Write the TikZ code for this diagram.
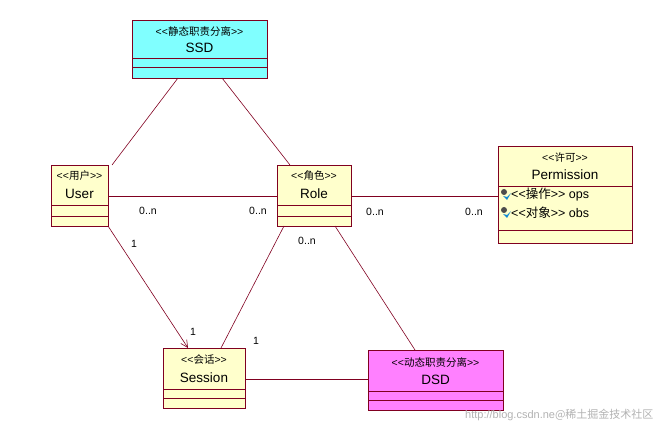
\documentclass[tikz,border=0pt]{standalone}
\usepackage{fontspec}
\setmainfont{Liberation Sans}
\newfontfamily\cjk{Noto Sans CJK SC}
\usetikzlibrary{arrows.meta}
\definecolor{cls}{HTML}{FFFFCC}
\definecolor{bd}{HTML}{800020}
\definecolor{ssdc}{HTML}{80FFFF}
\definecolor{dsdc}{HTML}{FF80FF}
\newcommand{\stl}{{<}{<}}
\newcommand{\stg}{{>}{>}}
\begin{document}
\begin{tikzpicture}[x=1pt,y=-1pt,
  box/.style={draw=bd,line width=0.8pt,anchor=north west,inner sep=0pt},
  st/.style={font=\fontsize{10.5}{11}\selectfont},
  nm/.style={font=\fontsize{13.5}{14}\selectfont},
  lnk/.style={draw=bd,line width=0.6pt},
  ml/.style={font=\fontsize{10.5}{11}\selectfont,inner sep=0pt}]
\useasboundingbox (0,0) rectangle (669,438);
% boxes
\node[box,fill=ssdc,minimum width=135,minimum height=58] (ssd) at (132,20) {};
\node[box,fill=cls,minimum width=57,minimum height=61] (user) at (51,165) {};
\node[box,fill=cls,minimum width=74,minimum height=61] (role) at (277,165) {};
\node[box,fill=cls,minimum width=134,minimum height=97] (perm) at (498,146) {};
\node[box,fill=cls,minimum width=82,minimum height=60] (sess) at (163,348) {};
\node[box,fill=dsdc,minimum width=135,minimum height=60] (dsd) at (368,350) {};
% compartments
\foreach \n/\a/\b in {ssd/38/47,user/40/51,role/40/51,sess/41/50,dsd/41/50}{
  \draw[bd,line width=0.8pt] ([yshift=-\a]\n.north west) -- ([yshift=-\a]\n.north east);
  \draw[bd,line width=0.8pt] ([yshift=-\b]\n.north west) -- ([yshift=-\b]\n.north east);}
\draw[bd,line width=0.8pt] ([yshift=-40]perm.north west) -- ([yshift=-40]perm.north east);
\draw[bd,line width=0.8pt] ([yshift=-84]perm.north west) -- ([yshift=-84]perm.north east);
% texts
\node[st] (t1) at (199.5,31) {\stl{\cjk 静态职责分离}\stg};
\node[nm] (t2) at (199.5,48) {SSD};
\node[st] (t3) at (79.5,176) {\stl{\cjk 用户}\stg};
\node[nm] (t4) at (79.5,194) {User};
\node[st] (t5) at (314,176) {\stl{\cjk 角色}\stg};
\node[nm] (t6) at (314,194) {Role};
\node[st] (t7) at (565,158) {\stl{\cjk 许可}\stg};
\node[nm] (t8) at (565,175) {Permission};
\node[st] (t9) at (204,360) {\stl{\cjk 会话}\stg};
\node[nm] (t10) at (204,378) {Session};
\node[st] (t11) at (435.5,362) {\stl{\cjk 动态职责分离}\stg};
\node[nm] (t12) at (435.5,380) {DSD};
\node[nm,anchor=west,font=\fontsize{12.5}{13}\selectfont,inner sep=0pt] (a1) at (511,195) {\stl{\cjk 操作}\stg\ ops};
\node[nm,anchor=west,font=\fontsize{12.5}{13}\selectfont,inner sep=0pt] (a2) at (511,213) {\stl{\cjk 对象}\stg\ obs};
\foreach \y in {195,213}{
  \fill[gray!60!black] (504,\y-3) circle (3);
  \fill[cyan!70!blue] (503,\y+1) -- (507,\y+5) -- (511,\y-2) -- (507,\y+2) -- cycle;}
% connectors
\coordinate (s1) at (178,78); \coordinate (u1) at (112,165);
\coordinate (s2) at (222,78); \coordinate (r1) at (290,165);
\draw[lnk] (s1) -- (u1);
\draw[lnk] (s2) -- (r1);
\draw[lnk] (user.east) -- (role.west);
\draw[lnk] (role.east) -- (perm.west |- role.east);
\coordinate (u2) at (108,226); \coordinate (se1) at (188,348);
\draw[lnk,-{Straight Barb[length=7pt,width=7pt]}] (u2) -- (se1);
\coordinate (r2) at (284,226); \coordinate (se2) at (221,348);
\draw[lnk] (r2) -- (se2);
\coordinate (r3) at (335,226); \coordinate (d1) at (415,350);
\draw[lnk] (r3) -- (d1);
\draw[lnk] (sess.east |- 0,379) -- (dsd.west |- 0,379);
% multiplicities
\node[ml] (m1) at (148,211) {0..n};
\node[ml] (m2) at (258,211) {0..n};
\node[ml] (m3) at (375,212) {0..n};
\node[ml] (m4) at (474,212) {0..n};
\node[ml] (m5) at (134,244) {1};
\node[ml] (m6) at (307,241) {0..n};
\node[ml] (m7) at (193,332) {1};
\node[ml] (m8) at (256,341) {1};
\node[anchor=east,text=gray!60,font=\fontsize{11}{12}\selectfont] (wm) at (657,415) {http://blog.csdn.ne{\cjk @稀土掘金技术社区}};
\end{tikzpicture}
\end{document}
